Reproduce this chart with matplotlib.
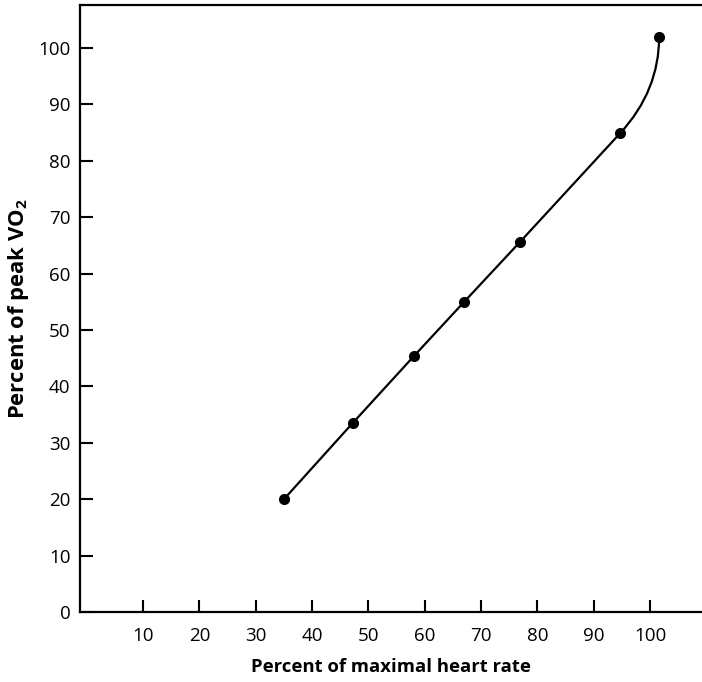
import matplotlib
matplotlib.use("Agg")
import matplotlib.pyplot as plt
from matplotlib.path import Path
from matplotlib.patches import PathPatch

plt.rcParams["font.family"] = "Open Sans"
plt.rcParams["mathtext.fontset"] = "custom"
plt.rcParams["mathtext.rm"] = "Open Sans"
plt.rcParams["mathtext.bf"] = "Open Sans:bold"

# data
heart_rate = [35, 47.2, 58.1, 67.0, 76.9, 94.7, 101.6]
vo2 = [20.0, 33.5, 45.4, 55.0, 65.6, 84.9, 102.0]
x_ticks = [10, 20, 30, 40, 50, 60, 70, 80, 90, 100]
y_ticks = [0, 10, 20, 30, 40, 50, 60, 70, 80, 90, 100]

fig = plt.figure(figsize=(7.02, 6.82), dpi=100)
ax = fig.add_axes([0.114, 0.1026, 0.886, 0.8901])

# straight part through the first six points
ax.plot(heart_rate[:6], vo2[:6], color="black", lw=1.6)

# last segment bends up: quadratic curve, tangent to the line at start, vertical at the end
slope = (vo2[5] - vo2[4]) / (heart_rate[5] - heart_rate[4])
ctrl = (heart_rate[6], vo2[5] + slope * (heart_rate[6] - heart_rate[5]))
curve = Path([(heart_rate[5], vo2[5]), ctrl, (heart_rate[6], vo2[6])],
             [Path.MOVETO, Path.CURVE3, Path.CURVE3])
ax.add_patch(PathPatch(curve, facecolor="none", edgecolor="black", lw=1.6))

ax.plot(heart_rate, vo2, "o", color="black", ms=7, ls="none")

ax.set_xlim(-1.2, 109.2)
ax.set_ylim(0, 107.6)
ax.set_xticks(x_ticks)
ax.set_yticks(y_ticks)
ax.tick_params(direction="in", length=9, width=1.5, labelsize=13.5, colors="black")
ax.tick_params(axis="x", pad=11)
ax.tick_params(axis="y", pad=7)

for side in ["left", "bottom", "top"]:
    ax.spines[side].set_linewidth(1.6)
ax.spines["right"].set_visible(False)

ax.set_xlabel("Percent of maximal heart rate", fontsize=13.3, fontweight="bold", labelpad=9)
ax.set_ylabel(r"Percent of peak VO$_\mathbf{2}$", fontsize=15.8, fontweight="bold", labelpad=5)

fig.savefig("out.png", dpi=100)
